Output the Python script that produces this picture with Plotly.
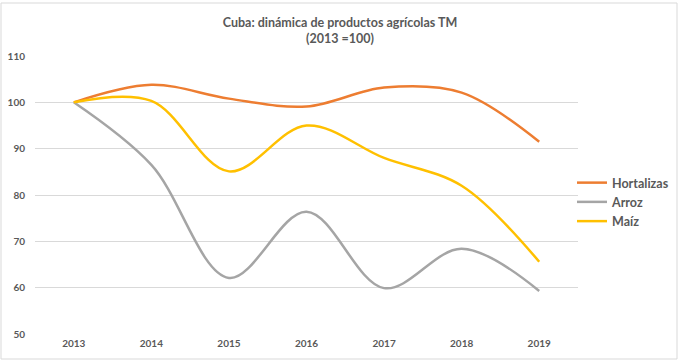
import plotly.graph_objects as go

years = ["2013", "2014", "2015", "2016", "2017", "2018", "2019"]
hortalizas = [100, 103.8, 100.8, 99.1, 103.2, 102.1, 91.5]
arroz = [100, 86.5, 62.1, 76.4, 59.9, 68.4, 59.3]
maiz = [100, 100.3, 85.1, 95.0, 88.0, 82.0, 65.6]

series = [("Hortalizas", hortalizas, "#ED7D31"),
          ("Arroz", arroz, "#A5A5A5"),
          ("Maíz", maiz, "#FFC000")]

fig = go.Figure()
for name, vals, col in series:
    fig.add_trace(go.Scatter(x=years, y=vals, name="<b>" + name + "</b>", mode="lines",
                             line=dict(color=col, width=2.5, shape="spline", smoothing=1.0)))

font_fam = "Lato, 'Open Sans', sans-serif"
L, R, T, B = 35, 102, 56, 28
W, H = 680, 362
pw, ph = W - L - R, H - T - B

fig.update_layout(
    width=W, height=H,
    margin=dict(l=L, r=R, t=T, b=B, autoexpand=False),
    paper_bgcolor="white", plot_bgcolor="white",
    title=dict(text="<b>Cuba: dinámica de productos agrícolas TM<br>(2013 =100)</b>",
               x=(340 - L) / pw, xref="paper", xanchor="center",
               y=1 - 27 / H, yanchor="middle",
               font=dict(family=font_fam, size=12.5, color="#595959")),
    legend=dict(x=(572 - L) / pw, xanchor="left", y=(H - B - 202) / ph, yanchor="middle",
                font=dict(family=font_fam, size=12.5, color="#595959"),
                tracegroupgap=0, itemwidth=30, bgcolor="rgba(0,0,0,0)"),
    xaxis=dict(type="category", range=[-0.5, 6.5], showgrid=False, showline=False,
               ticks="", tickfont=dict(family=font_fam, size=10, color="#595959"),
               tickprefix="<b>", ticksuffix="</b>", ticklabelstandoff=2),
    yaxis=dict(range=[50, 110], dtick=10, showgrid=True, gridcolor="#D9D9D9", gridwidth=1,
               zeroline=False, showline=False, ticks="",
               tickfont=dict(family=font_fam, size=10, color="#595959"),
               tickprefix="<b>", ticksuffix="</b>", ticklabelstandoff=9),
    showlegend=True,
)

# chart border
fig.add_shape(type="rect", xref="paper", yref="paper",
              x0=(1 - L) / pw, x1=(677 - L) / pw,
              y0=(H - B - 359) / ph, y1=(H - B - 3) / ph,
              line=dict(color="#D9D9D9", width=1), fillcolor="rgba(0,0,0,0)", layer="below")

fig.write_html("out.html", config={"displayModeBar": False},
               post_script="document.body.style.margin='0';")
